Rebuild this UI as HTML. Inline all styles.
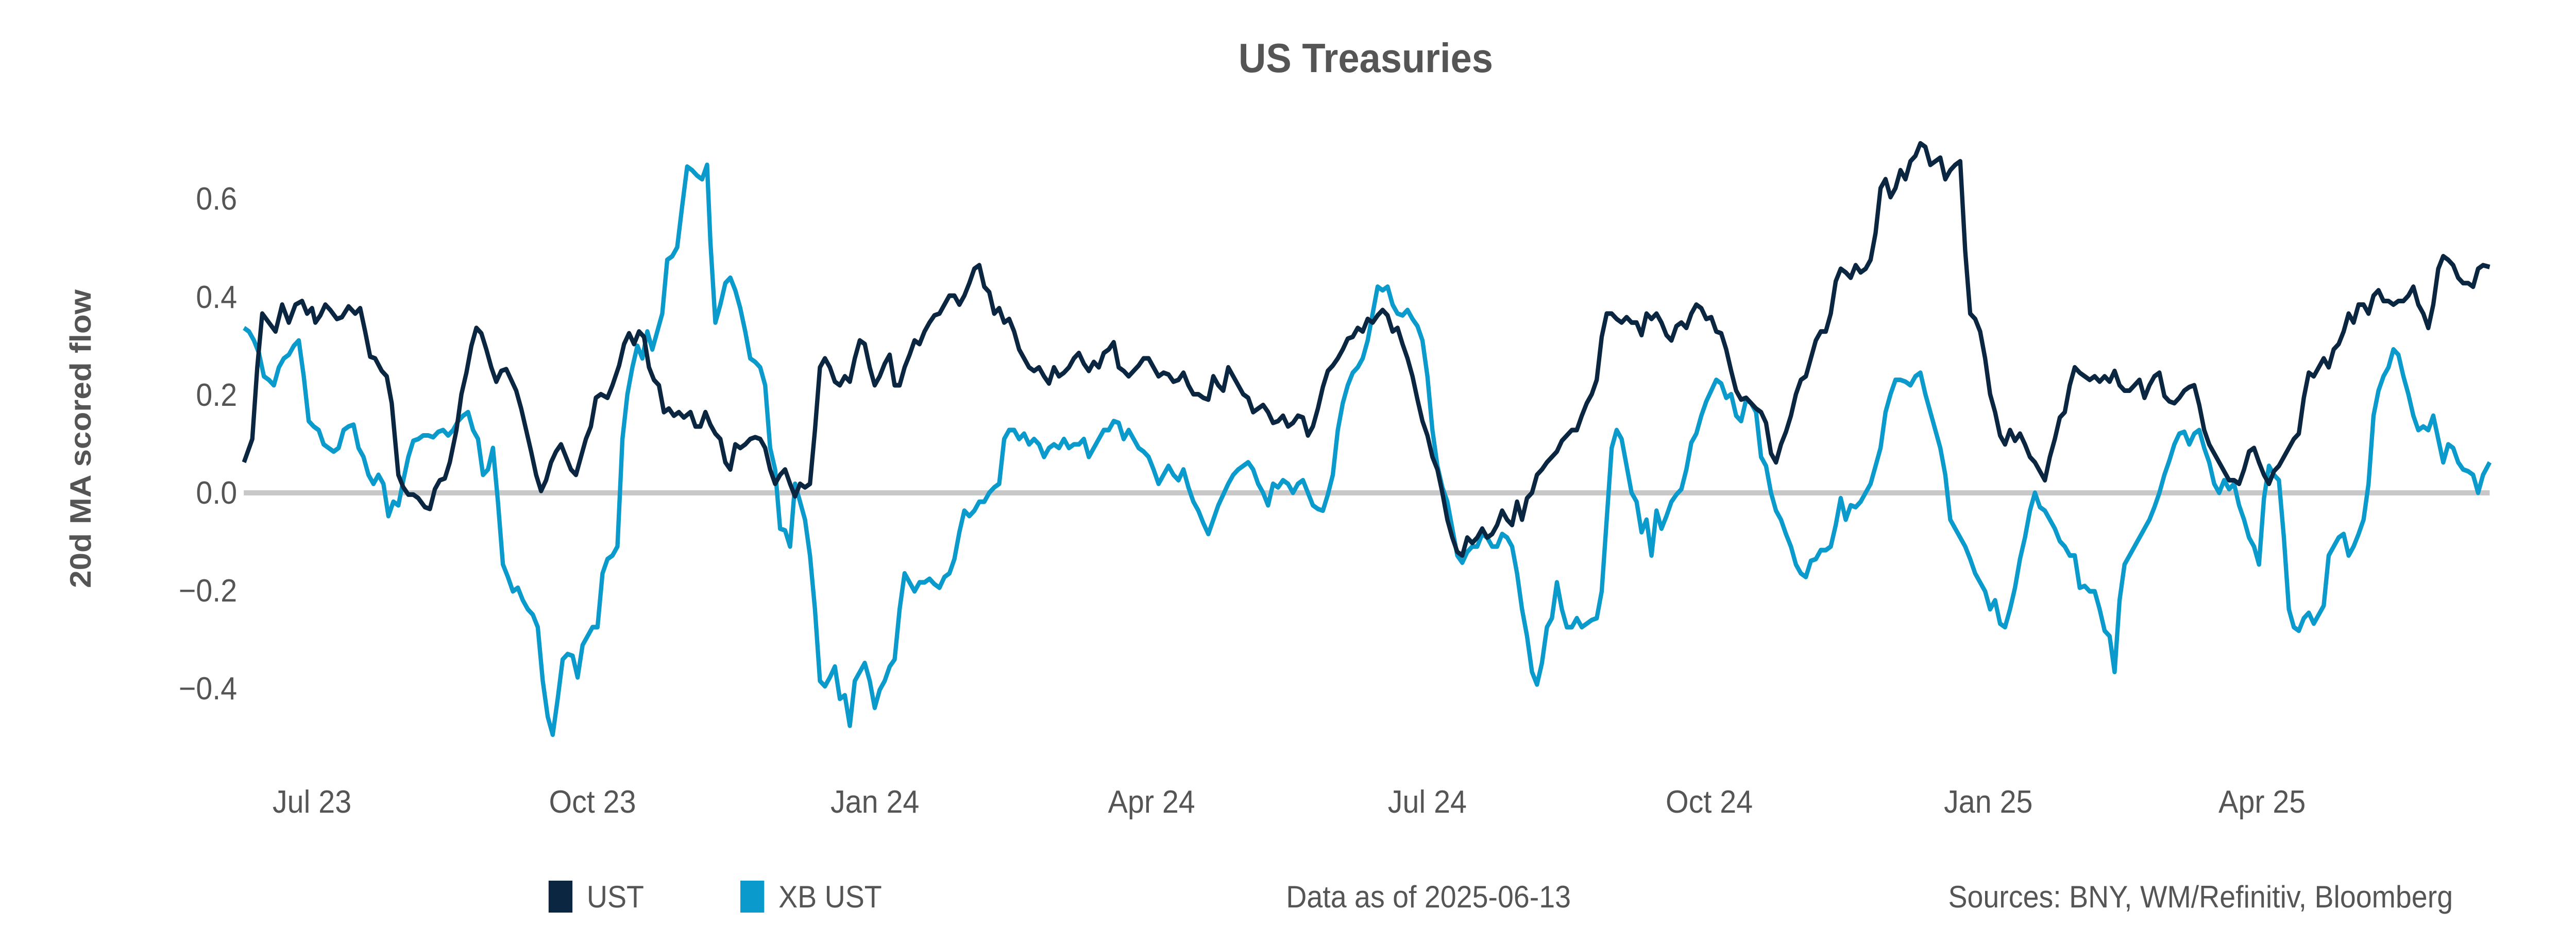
<!DOCTYPE html>
<html><head><meta charset="utf-8"><style>
html,body{margin:0;padding:0;background:#fff;overflow:hidden;width:100%;height:100%;}
svg{display:block;width:100vw;height:100vh;}
text{font-family:"Liberation Sans",sans-serif;}
</style></head><body>
<svg viewBox="0 0 5400 1800" preserveAspectRatio="none" xmlns="http://www.w3.org/2000/svg">
<rect width="5400" height="1800" fill="#fff"/>
<text x="2863" y="140" font-size="80" font-weight="bold" fill="#555" text-anchor="middle">US Treasuries</text>
<text transform="translate(190,852) rotate(-90)" font-size="62" font-weight="bold" fill="#555" text-anchor="middle">20d MA scored flow</text>
<g font-size="62" fill="#555" text-anchor="end">
<text x="497" y="407">0.6</text>
<text x="497" y="598">0.4</text>
<text x="497" y="788">0.2</text>
<text x="497" y="978">0.0</text>
<text x="497" y="1168">−0.2</text>
<text x="497" y="1358">−0.4</text>
</g>
<g font-size="62" fill="#555" text-anchor="middle">
<text x="654" y="1578">Jul 23</text>
<text x="1242" y="1578">Oct 23</text>
<text x="1834" y="1578">Jan 24</text>
<text x="2414" y="1578">Apr 24</text>
<text x="2992" y="1578">Jul 24</text>
<text x="3583" y="1578">Oct 24</text>
<text x="4168" y="1578">Jan 25</text>
<text x="4742" y="1578">Apr 25</text>
</g>
<line x1="511" y1="957" x2="5219" y2="957" stroke="#c8c8c8" stroke-width="10"/>
<g transform="scale(3.4794)" fill="none" stroke-width="2.6" stroke-linejoin="round">
<polyline stroke="#0a9acb" points="147,183 150,185 153,190 156,197 159,210 162,212 165,215 168,205 171,200 174,198 177,193 180,190 183,210 186,235 189,238 192,240 195,248 198,250 201,252 204,250 207,240 210,238 213,237 216,250 219,255 222,265 225,270 228,265 231,270 234,288 237,280 240,282 243,268 246,255 249,246 252,245 255,243 258,243 261,244 264,241 267,240 270,243 273,240 276,235 279,232 282,230 285,240 288,245 291,265 294,262 297,250 300,280 303,315 306,322 309,330 312,328 315,335 318,340 321,343 324,350 327,380 330,400 333,410 336,390 339,368 342,365 345,366 348,378 351,360 354,355 357,350 360,350 363,320 366,312 369,310 372,305 375,245 378,220 381,205 384,193 387,200 390,185 393,195 396,185 399,175 402,145 405,143 408,138 411,115 414,93 417,95 420,98 423,100 426,92 428,135 431,180 434,170 437,158 440,155 443,162 446,172 449,185 452,200 455,202 458,205 461,215 464,250 467,262 470,295 473,296 476,305 479,270 482,280 485,290 488,310 491,340 494,380 497,383 500,378 503,372 506,390 509,388 512,405 515,380 518,375 521,370 524,380 527,395 530,385 533,380 536,372 539,368 542,340 545,320 548,325 551,330 554,325 557,325 560,323 563,326 566,328 569,322 572,320 575,312 578,297 581,285 584,288 587,285 590,280 593,280 596,275 599,272 602,270 605,245 608,240 611,240 614,245 617,242 620,248 623,245 626,248 629,255 632,250 635,248 638,250 641,245 644,250 647,248 650,248 653,245 656,255 659,250 662,245 665,240 668,240 671,235 674,236 677,245 680,240 683,245 686,250 689,252 692,255 695,262 698,270 701,265 704,260 707,265 710,268 713,262 716,272 719,280 722,285 725,292 728,298 731,290 734,282 737,276 740,270 743,265 746,262 749,260 752,258 755,262 758,270 761,275 764,282 767,270 770,272 773,268 776,270 779,275 782,270 785,268 788,275 791,282 794,284 797,285 800,276 803,265 806,240 809,225 812,215 815,208 818,205 821,200 824,190 827,175 830,160 833,162 836,160 839,170 842,175 845,176 848,173 851,178 854,182 857,190 860,210 863,240 866,260 869,272 872,280 875,295 878,310 881,314 884,308 887,305 890,305 893,298 896,300 899,305 902,305 905,298 908,300 911,305 914,320 917,340 920,355 923,375 926,382 929,370 932,350 935,345 938,325 941,340 944,350 947,350 950,345 953,350 956,348 959,346 962,345 965,330 968,290 971,250 974,240 977,245 980,260 983,275 986,280 989,297 992,290 995,310 998,285 1001,295 1004,288 1007,280 1010,276 1013,273 1016,262 1019,247 1022,242 1025,232 1028,224 1031,218 1034,212 1037,214 1040,222 1043,220 1046,232 1049,235 1052,223 1055,225 1058,230 1061,255 1064,260 1067,275 1070,285 1073,290 1076,298 1079,305 1082,315 1085,320 1088,322 1091,313 1094,312 1097,307 1100,307 1103,305 1106,293 1109,278 1112,290 1115,282 1118,283 1121,280 1124,275 1127,270 1130,260 1133,250 1136,230 1139,220 1142,212 1145,212 1148,213 1151,215 1154,210 1157,208 1160,220 1163,230 1166,240 1169,250 1172,265 1175,290 1178,295 1181,300 1184,305 1187,312 1190,320 1193,325 1196,330 1199,340 1202,335 1205,348 1208,350 1211,340 1214,328 1217,312 1220,300 1223,285 1226,275 1229,283 1232,285 1235,290 1238,295 1241,302 1244,305 1247,310 1250,310 1253,328 1256,327 1259,330 1262,330 1265,340 1268,352 1271,355 1274,375 1277,335 1280,315 1283,310 1286,305 1289,300 1292,295 1295,290 1298,283 1301,275 1304,265 1307,257 1310,248 1313,242 1316,241 1319,248 1322,242 1325,240 1328,250 1331,258 1334,270 1337,275 1340,268 1343,273 1346,270 1349,282 1352,290 1355,300 1358,305 1361,315 1364,278 1367,260 1370,265 1373,268 1376,300 1379,340 1382,350 1385,352 1388,345 1391,342 1394,348 1397,343 1400,338 1403,310 1406,305 1409,300 1412,298 1415,310 1418,305 1421,298 1424,290 1427,270 1430,232 1433,218 1436,210 1439,205 1442,195 1445,198 1448,210 1451,220 1454,232 1457,240 1460,238 1463,240 1466,232 1469,245 1472,258 1475,248 1478,250 1481,258 1484,262 1487,263 1490,265 1493,275 1496,265 1500,258"/>
<polyline stroke="#0b2640" points="147,258 152,245 155,205 158,175 162,180 166,185 170,170 174,180 178,170 182,168 185,175 188,172 190,180 193,176 196,170 199,173 203,178 206,177 210,171 214,175 217,172 220,185 223,199 226,200 230,207 233,210 236,225 240,265 243,272 246,276 249,276 252,278 256,283 259,284 262,273 265,268 268,267 271,258 275,240 278,220 281,208 284,193 287,183 290,186 293,195 296,205 299,213 302,207 305,206 308,212 311,218 314,228 317,240 320,252 323,265 326,274 329,268 332,258 335,252 338,248 341,255 344,262 347,265 350,255 353,245 356,238 359,222 362,220 366,222 369,215 373,204 376,192 379,186 382,192 385,185 388,188 391,205 394,212 397,215 400,230 403,228 406,232 409,230 412,233 416,230 419,238 422,238 425,230 428,237 431,242 434,245 437,258 440,262 443,248 446,250 449,248 452,245 455,244 458,245 461,250 464,262 467,270 470,265 473,262 476,270 479,277 482,270 485,272 488,270 491,240 494,205 497,200 500,205 503,213 506,215 509,210 512,213 515,200 518,190 521,192 524,205 527,215 530,210 533,203 536,198 539,215 542,215 545,205 548,198 551,190 554,192 557,185 560,180 563,176 566,175 569,170 572,165 575,165 578,170 581,165 584,158 587,150 590,148 593,160 596,163 599,175 602,172 605,180 608,178 611,185 614,195 617,200 620,205 623,207 626,205 629,210 632,214 635,205 638,210 641,208 644,205 647,200 650,197 653,203 656,207 659,202 662,205 665,197 668,195 671,191 674,205 677,207 680,210 683,207 686,204 689,200 692,200 695,205 698,210 701,208 704,209 707,213 710,212 713,208 716,215 719,220 722,220 725,222 728,223 731,210 734,215 737,218 740,205 743,210 746,215 749,220 752,222 755,230 758,228 761,226 764,230 767,236 770,235 773,232 776,238 779,236 782,232 785,233 788,243 791,238 794,228 797,216 800,207 803,204 806,200 809,195 812,189 815,188 818,183 821,185 824,178 827,180 830,176 833,173 836,176 839,185 842,183 845,192 848,200 851,210 854,223 857,235 860,243 863,255 866,262 869,275 872,290 875,300 878,308 881,310 884,300 887,303 890,300 893,295 896,300 899,298 902,293 905,285 908,290 911,293 914,280 917,290 920,278 923,275 926,265 929,262 932,258 935,255 938,252 941,246 944,243 947,240 950,240 953,232 956,225 959,220 962,212 965,188 968,175 971,175 974,178 977,180 980,177 983,180 986,180 989,187 992,175 995,178 998,175 1001,180 1004,187 1007,190 1010,182 1013,180 1016,183 1019,175 1022,170 1025,172 1028,178 1031,177 1034,185 1037,186 1040,195 1043,207 1046,218 1049,223 1052,222 1055,225 1058,228 1061,230 1064,236 1067,253 1070,258 1073,248 1076,241 1079,232 1082,220 1085,212 1088,210 1091,200 1094,190 1097,185 1100,185 1103,175 1106,157 1109,150 1112,152 1115,155 1118,148 1121,152 1124,150 1127,145 1130,130 1133,105 1136,100 1139,110 1142,105 1145,95 1148,100 1151,90 1154,87 1157,80 1160,82 1163,92 1166,90 1169,88 1172,100 1175,95 1178,92 1181,90 1184,140 1187,175 1190,178 1193,185 1196,200 1199,220 1202,230 1205,243 1208,248 1211,240 1214,246 1217,242 1220,248 1223,255 1226,258 1229,263 1232,268 1235,255 1238,245 1241,233 1244,230 1247,215 1250,205 1253,208 1256,210 1259,212 1262,210 1265,213 1268,210 1271,213 1274,207 1277,215 1280,218 1283,218 1286,215 1289,212 1292,222 1295,215 1298,210 1301,208 1304,221 1307,224 1310,225 1313,222 1316,218 1319,216 1322,215 1325,226 1328,240 1331,248 1334,253 1337,258 1340,263 1343,268 1346,268 1349,270 1352,262 1355,252 1358,250 1361,258 1364,265 1367,270 1370,263 1373,260 1376,255 1379,250 1382,245 1385,242 1388,222 1391,208 1394,210 1397,205 1400,200 1403,205 1406,195 1409,192 1412,185 1415,175 1418,180 1421,170 1424,170 1427,175 1430,165 1433,162 1436,168 1439,168 1442,170 1445,168 1448,168 1451,165 1454,160 1457,170 1460,175 1463,183 1466,170 1469,150 1472,143 1475,145 1478,148 1481,155 1484,158 1487,158 1490,160 1493,150 1496,148 1500,149"/>
</g>
<rect x="1150" y="1710" width="50" height="62" fill="#0b2640"/>
<text x="1230" y="1762" font-size="60" fill="#555">UST</text>
<rect x="1552" y="1710" width="50" height="62" fill="#0a9acb"/>
<text x="1632" y="1762" font-size="60" fill="#555">XB UST</text>
<text x="2696" y="1762" font-size="60" fill="#555">Data as of 2025-06-13</text>
<text x="5142" y="1762" font-size="60" fill="#555" text-anchor="end">Sources:  BNY, WM/Refinitiv, Bloomberg</text>
</svg>
</body></html>
